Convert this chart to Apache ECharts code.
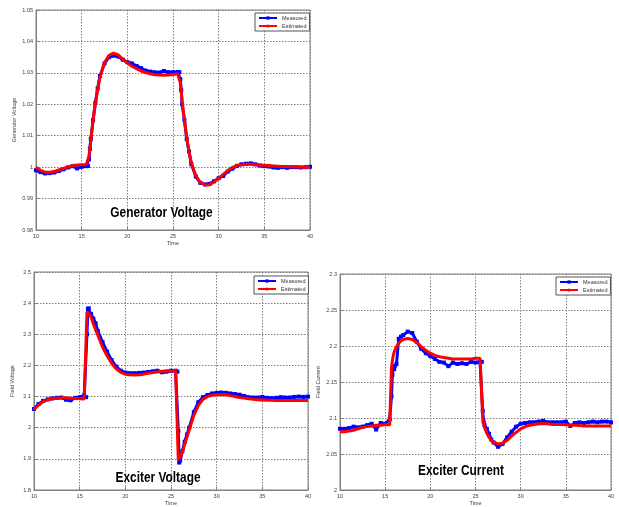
<!DOCTYPE html>
<html><head><meta charset="utf-8">
<script src="https://cdn.jsdelivr.net/npm/echarts@6/dist/echarts.min.js"></script>
<style>html,body{margin:0;padding:0;background:#fff}#c{width:619px;height:507px}</style>
</head><body><div id="c"></div>
<script>
const time = [10,10.5,11,11.5,12,12.5,13,13.5,14,14.5,15,15.5,
  15.7,15.8,15.9,
  16,16.25,16.5,16.75,17,
  17.5,18,18.5,19,19.5,20,20.5,21,21.5,22,22.5,23,23.5,24,24.5,25,25.5,
  25.7,25.8,25.9,
  26,26.25,26.5,26.75,27,
  27.5,28,28.5,29,29.5,30,30.5,31,31.5,32,32.5,33,33.5,34,34.5,35,35.5,36,36.5,37,37.5,38,38.5,39,39.5,40];

const genMeasured = [0.9990,0.9984,0.9980,0.9981,0.9983,0.9988,0.9993,0.9999,1.0003,0.9996,1.0001,1.0003,
  1.0004,1.0025,1.0058,
  1.0090,1.0150,1.0205,1.0250,1.0290,
  1.0330,1.0350,1.0355,1.0352,1.0342,1.0334,1.0330,1.0322,1.0315,1.0307,1.0304,1.0302,1.0301,1.0306,1.0302,1.0302,1.0303,
  1.0302,1.0280,1.0245,
  1.0200,1.0150,1.0090,1.0050,1.0010,
  0.9970,0.9950,0.9945,0.9947,0.9955,0.9965,0.9972,0.9986,0.9995,1.0004,1.0009,1.0011,1.0012,1.0009,1.0005,1.0003,1.0002,0.9999,0.9998,1.0000,0.9998,1.0000,1.0000,0.9999,1.0000,1.0001];
const genEstimated = [1.0000,0.9990,0.9984,0.9984,0.9986,0.9991,0.9996,1.0001,1.0005,1.0007,1.0008,1.0008,
  1.0010,1.0035,1.0060,
  1.0085,1.0149,1.0202,1.0248,1.0285,
  1.0333,1.0356,1.0363,1.0357,1.0344,1.0332,1.0321,1.0313,1.0306,1.0301,1.0297,1.0294,1.0293,1.0292,1.0293,1.0295,1.0297,
  1.0292,1.0270,1.0242,
  1.0210,1.0150,1.0095,1.0050,1.0015,
  0.9972,0.9951,0.9943,0.9944,0.9953,0.9964,0.9977,0.9989,0.9999,1.0005,1.0008,1.0009,1.0009,1.0008,1.0007,1.0006,1.0005,1.0004,1.0003,1.0002,1.0002,1.0001,1.0001,1.0000,1.0000,1.0000];

const fieldVoltageMeasured = [2.060,2.076,2.086,2.091,2.094,2.096,2.097,2.090,2.088,2.096,2.098,2.104,
  2.098,2.300,2.382,
  2.383,2.365,2.350,2.335,2.310,
  2.275,2.244,2.217,2.196,2.183,2.177,2.175,2.175,2.176,2.177,2.179,2.181,2.183,2.178,2.180,2.183,2.183,
  2.180,1.990,1.888,
  1.895,1.925,1.955,1.978,2.000,
  2.050,2.082,2.098,2.105,2.110,2.112,2.113,2.112,2.110,2.108,2.106,2.102,2.098,2.097,2.097,2.099,2.096,2.095,2.096,2.098,2.097,2.097,2.099,2.100,2.099,2.100];
const fieldVoltageEstimated = [2.058,2.073,2.084,2.090,2.093,2.095,2.096,2.096,2.095,2.094,2.093,2.092,
  2.092,2.372,2.376,
  2.372,2.355,2.333,2.314,2.296,
  2.259,2.231,2.207,2.189,2.178,2.172,2.170,2.169,2.170,2.172,2.175,2.177,2.179,2.181,2.182,2.183,2.184,
  2.185,1.896,1.892,
  1.900,1.922,1.948,1.970,1.993,
  2.040,2.072,2.091,2.100,2.104,2.106,2.106,2.106,2.103,2.100,2.097,2.095,2.093,2.091,2.090,2.089,2.088,2.088,2.087,2.087,2.087,2.087,2.087,2.087,2.087,2.087];

const fieldCurrentMeasured = [2.085,2.085,2.086,2.088,2.087,2.088,2.090,2.092,2.084,2.093,2.092,2.098,
  2.130,2.160,2.172,
  2.168,2.175,2.210,2.213,2.215,
  2.220,2.218,2.206,2.196,2.190,2.186,2.182,2.178,2.177,2.172,2.177,2.175,2.176,2.175,2.178,2.177,2.178,
  2.178,2.110,2.095,
  2.090,2.085,2.078,2.070,2.066,
  2.060,2.064,2.073,2.081,2.088,2.092,2.093,2.094,2.094,2.095,2.096,2.094,2.094,2.094,2.094,2.095,2.089,2.093,2.094,2.093,2.094,2.095,2.094,2.095,2.095,2.094];
const fieldCurrentEstimated = [2.081,2.081,2.082,2.083,2.085,2.087,2.088,2.089,2.090,2.090,2.0905,2.0905,
  2.170,2.180,2.187,
  2.192,2.199,2.204,2.207,2.209,
  2.2105,2.209,2.205,2.199,2.194,2.190,2.187,2.185,2.184,2.183,2.182,2.182,2.182,2.182,2.182,2.183,2.183,
  2.183,2.100,2.092,
  2.087,2.079,2.073,2.069,2.066,
  2.064,2.065,2.069,2.075,2.080,2.085,2.088,2.090,2.091,2.092,2.092,2.092,2.091,2.091,2.091,2.0905,2.090,2.090,2.0895,2.089,2.089,2.089,2.089,2.089,2.089,2.089];

const timeTicks = [10,15,20,25,30,35,40];
const genTicks = [0.98,0.99,1.00,1.01,1.02,1.03,1.04,1.05];
const fieldVoltageTicks = [1.8,1.9,2.0,2.1,2.2,2.3,2.4,2.5];
const fieldCurrentTicks = [2.00,2.05,2.10,2.15,2.20,2.25,2.30];

const seriesNames = ['Measured','Estimated'];
const panelTitles = ['Generator Voltage','Exciter Voltage','Exciter Current'];
const yNames = ['Generator Voltage','Field Voltage','Field Current'];

const FONT = '"Liberation Sans", Arial, sans-serif';
const LBL = '#404040';
const AX = '#808080';
const step = a => Math.round((a[1]-a[0])*1e6)/1e6;
const pairs = v => time.map((t,i)=>[t, v[i]]);

const grids = [
  {left:36, top:10, width:274, height:220},
  {left:34, top:272, width:274, height:220},
  {left:340, top:274, width:271, height:220}
];
const tickSets = [genTicks, fieldVoltageTicks, fieldCurrentTicks];
const data = [[genMeasured, genEstimated],[fieldVoltageMeasured, fieldVoltageEstimated],[fieldCurrentMeasured, fieldCurrentEstimated]];

const option = {
  animation:false,
  backgroundColor:'#fff',
  grid: grids.map(g=>Object.assign({show:true, borderColor:AX, borderWidth:1, backgroundColor:'#fff'}, g)),
  xAxis: grids.map((g,i)=>({
    type:'value', gridIndex:i,
    min:timeTicks[0], max:timeTicks[timeTicks.length-1], interval:step(timeTicks),
    name:'Time', nameLocation:'middle', nameGap:10,
    nameTextStyle:{fontSize:5.5, color:LBL, fontFamily:FONT},
    axisLine:{lineStyle:{color:AX}},
    axisTick:{inside:true, length:3, lineStyle:{color:AX}},
    axisLabel:{fontSize:5.5, color:LBL, margin:3, fontFamily:FONT},
    splitLine:{show:true, lineStyle:{color:'#808080', width:1, type:[1.5,1.5]}}
  })),
  yAxis: grids.map((g,i)=>({
    type:'value', gridIndex:i,
    min:tickSets[i][0], max:tickSets[i][tickSets[i].length-1], interval:step(tickSets[i]),
    name:yNames[i], nameLocation:'middle', nameGap:19,
    nameTextStyle:{fontSize:5.5, color:LBL, fontFamily:FONT},
    axisLine:{show:true, lineStyle:{color:AX}},
    axisTick:{show:true, inside:true, length:3, lineStyle:{color:AX}},
    axisLabel:{fontSize:5.5, color:LBL, margin:3, fontFamily:FONT},
    splitLine:{show:true, lineStyle:{color:'#808080', width:1, type:[1.5,1.5]}}
  })),
  legend: [[255,13],[254,276],[556,277]].map(p=>({
    left:p[0], top:p[1], orient:'vertical', data:seriesNames,
    itemWidth:18, itemHeight:4, itemGap:2, padding:[2,3,2,3],
    borderColor:'#555', borderWidth:1, backgroundColor:'#fff',
    textStyle:{fontSize:5.5, color:'#333', fontFamily:FONT},
    selectedMode:false
  })),
  series: [],
  graphic: panelTitles.map((t,i)=>({
    type:'text', x:[161.5,158,461][i], y:[213,478,471.5][i], scaleX:0.85, z:100,
    style:{text:t, font:'bold 14px '+FONT, fill:'#000', align:'center', verticalAlign:'middle'}
  }))
};

data.forEach((d,i)=>{
  option.series.push({
    name:seriesNames[0], type:'line', xAxisIndex:i, yAxisIndex:i, data:pairs(d[0]),
    symbol:'rect', symbolSize:4, showSymbol:true, showAllSymbol:true,
    itemStyle:{color:'#0000ff'}, lineStyle:{color:'#0000ff', width:3}, z:2
  });
  option.series.push({
    name:seriesNames[1], type:'line', xAxisIndex:i, yAxisIndex:i, data:pairs(d[1]),
    symbol:'none', itemStyle:{color:'#ff0000'}, lineStyle:{color:'#ff0000', width:3}, z:3
  });
});

const chart = echarts.init(document.getElementById('c'), null, {renderer:'canvas'});
chart.setOption(option);
</script>
</body></html>
